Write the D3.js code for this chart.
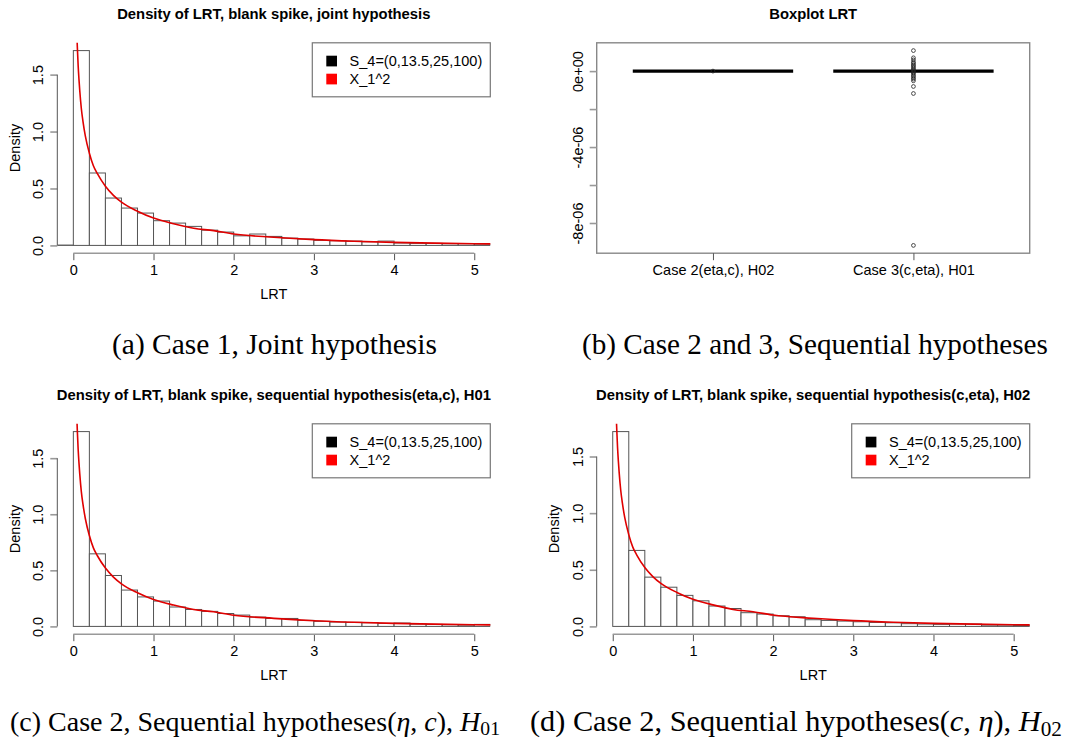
<!DOCTYPE html>
<html>
<head>
<meta charset="utf-8">
<script src="https://cdn.jsdelivr.net/npm/d3@7"></script>
<style>
  body { margin: 0; background: #fff; }
  svg { display: block; }
  text { font-family: "Liberation Sans", Arial, sans-serif; fill: #000; }
  .cap text, text.cap { font-family: "Liberation Serif", "Times New Roman", serif; }
</style>
</head>
<body>
<svg id="fig" width="1072" height="743"></svg>
<script>
// 直方圖的左端點 (bin 寬 0.2)
const binLeft = [-0.2, 0, 0.2, 0.4, 0.6, 0.8, 1.0, 1.2, 1.4, 1.6, 1.8, 2.0, 2.2, 2.4,
  2.6, 2.8, 3.0, 3.2, 3.4, 3.6, 3.8, 4.0, 4.2, 4.4, 4.6, 4.8, 5.0];
const binWidth = 0.2;

// 各圖的密度
const densJoint = [0.003, 1.711, 0.636, 0.416, 0.328, 0.284, 0.217, 0.196, 0.167, 0.134,
  0.117, 0.084, 0.100, 0.079, 0.064, 0.056, 0.044, 0.041, 0.038, 0.032, 0.038, 0.021,
  0.018, 0.018, 0.015, 0.015, 0.012];
const densEtaC = [null, 1.737, 0.647, 0.454, 0.324, 0.263, 0.226, 0.173, 0.151, 0.134,
  0.115, 0.101, 0.083, 0.071, 0.071, 0.054, 0.045, 0.039, 0.036, 0.033, 0.027, 0.030,
  0.021, 0.018, 0.015, 0.012, 0.018];
const densCEta = [null, 1.720, 0.671, 0.435, 0.346, 0.274, 0.226, 0.180, 0.158, 0.121,
  0.109, 0.094, 0.085, 0.059, 0.053, 0.047, 0.041, 0.035, 0.032, 0.024, 0.021, 0.018,
  0.021, 0.021, 0.012, 0.012, 0.009];

// 紅色曲線 X_1^2
const chiX = [0.04, 0.05, 0.06, 0.07, 0.08, 0.1, 0.12, 0.15, 0.2, 0.25, 0.3, 0.4, 0.5,
  0.6, 0.8, 1.0, 1.25, 1.5, 1.75, 2.0, 2.5, 3.0, 3.5, 4.0, 4.5, 5.0, 5.4];
const chiY = [1.93, 1.74, 1.58, 1.46, 1.36, 1.20, 1.09, 0.96, 0.81, 0.70, 0.63, 0.52, 0.44,
  0.38, 0.30, 0.24, 0.19, 0.15, 0.13, 0.10, 0.072, 0.051, 0.037, 0.027, 0.020, 0.015, 0.012];

const xTicks = [0, 1, 2, 3, 4, 5];
const yTicks = [0, 0.5, 1.0, 1.5];
const legendLabels = ["S_4=(0,13.5,25,100)", "X_1^2"];
const legendColors = ["#000", "#ff0000"];

// boxplot
const boxCats = ["Case 2(eta,c), H02", "Case 3(c,eta), H01"];
const boxMedians = [0, 0];
const boxOutliers = [
  [0],
  [1.08e-6, 0.70e-6, 0.59e-6, 0.47e-6, 0.40e-6, 0.32e-6, 0.25e-6, 0.18e-6, 0.10e-6, 0.04e-6,
   -0.04e-6, -0.10e-6, -0.18e-6, -0.26e-6, -0.34e-6, -0.42e-6, -0.51e-6, -0.81e-6,
   -1.18e-6, -9.18e-6]
];
const boxTicks = [0, -2e-6, -4e-6, -6e-6, -8e-6];
const boxTickLabels = ["0e+00", "", "-4e-06", "", "-8e-06"];

const titles = [
  "Density of LRT, blank spike, joint hypothesis",
  "Boxplot LRT",
  "Density of LRT, blank spike, sequential hypothesis(eta,c), H01",
  "Density of LRT, blank spike, sequential hypothesis(c,eta), H02"
];

// 版面
const L = 57.3, R = 490.3, T = 42.8, B = 253.2;
const FS = 14.5;
const svg = d3.select("#fig");

function pad(ext) {
  const d = (ext[1] - ext[0]) * 0.04;
  return [ext[0] - d, ext[1] + d];
}

function panelFrame(g, title, id) {
  g.append("text")
    .attr("x", (L + R) / 2).attr("y", 19)
    .attr("text-anchor", "middle")
    .style("font-size", "14.8px").style("font-weight", "bold")
    .text(title);
  g.append("clipPath").attr("id", id)
    .append("rect").attr("x", L).attr("y", T).attr("width", R - L).attr("height", B - T);
}

function yLabelRotate(sel, off) {
  sel.selectAll(".tick text")
    .attr("transform", "rotate(-90)")
    .attr("x", 0).attr("y", -off)
    .attr("dy", "0.35em")
    .attr("text-anchor", "middle");
}

function drawHist(g, title, dens, id) {
  panelFrame(g, title, id);
  const x = d3.scaleLinear().domain(pad([0, 5])).range([L, R]);
  const y = d3.scaleLinear().domain(pad([0, d3.max(dens)])).range([B, T]);

  const bins = binLeft.map((l, i) => ({ l, d: dens[i] })).filter(b => b.d != null);
  const plot = g.append("g").attr("clip-path", `url(#${id})`);
  plot.selectAll("rect.bar").data(bins).join("rect")
    .attr("class", "bar")
    .attr("x", b => x(b.l))
    .attr("y", b => y(b.d))
    .attr("width", b => x(b.l + binWidth) - x(b.l))
    .attr("height", b => y(0) - y(b.d))
    .attr("fill", "#fff")
    .attr("stroke", "#555")
    .attr("stroke-width", 1);

  const line = d3.line().x(d => x(d[0])).y(d => y(d[1])).curve(d3.curveMonotoneX);
  plot.append("path")
    .datum(chiX.map((v, i) => [v, chiY[i]]))
    .attr("d", line)
    .attr("fill", "none")
    .attr("stroke", "#e00000")
    .attr("stroke-width", 1.6);

  // x 軸
  const gx = g.append("g").attr("transform", `translate(0,${B})`)
    .call(d3.axisBottom(x).tickValues(xTicks).tickFormat(d3.format("d")).tickSizeOuter(0).tickSize(7).tickPadding(5));
  gx.select(".domain").remove();
  gx.append("line").attr("x1", x(xTicks[0])).attr("x2", x(xTicks[xTicks.length - 1]))
    .attr("stroke", "#999").attr("stroke-width", 1.6);
  gx.selectAll(".tick line").attr("stroke", "#555");
  gx.selectAll("text").style("font-size", FS + "px").style("font-family", "Liberation Sans, Arial, sans-serif");

  // y 軸
  const gy = g.append("g").attr("transform", `translate(${L},0)`)
    .call(d3.axisLeft(y).tickValues(yTicks).tickFormat(d3.format(".1f")).tickSize(7));
  gy.select(".domain").remove();
  gy.append("line").attr("y1", y(yTicks[0])).attr("y2", y(yTicks[yTicks.length - 1]))
    .attr("stroke", "#555").attr("stroke-width", 1);
  gy.selectAll(".tick line").attr("stroke", "#999").attr("stroke-width", 1.6);
  gy.selectAll("text").style("font-size", FS + "px").style("font-family", "Liberation Sans, Arial, sans-serif");
  yLabelRotate(gy, 19);

  g.append("text").attr("x", (L + R) / 2).attr("y", 299).attr("text-anchor", "middle")
    .style("font-size", FS + "px").text("LRT");
  g.append("text").attr("transform", `translate(20,${(T + B) / 2}) rotate(-90)`)
    .attr("text-anchor", "middle").style("font-size", FS + "px").text("Density");

  // 圖例
  const lw = 178, lh = 54;
  const lg = g.append("g").attr("transform", `translate(${R - lw},${T})`);
  lg.append("rect").attr("width", lw).attr("height", lh)
    .attr("fill", "#fff").attr("stroke", "#777").attr("stroke-width", 1.2);
  const items = lg.selectAll("g.item").data(legendLabels).join("g")
    .attr("class", "item")
    .attr("transform", (d, i) => `translate(0,${18.2 + i * 18})`);
  items.append("rect").attr("x", 14).attr("y", -5.3).attr("width", 10.7).attr("height", 10.7)
    .attr("fill", (d, i) => legendColors[i]);
  items.append("text").attr("x", 37.3).attr("dy", "0.36em")
    .style("font-size", FS + "px").text(d => d);
}

function drawBox(g, title, id) {
  panelFrame(g, title, id);
  const all = boxOutliers.flat().concat(boxMedians);
  const x = d3.scaleLinear().domain(pad([0.5, boxCats.length + 0.5])).range([L, R]);
  const y = d3.scaleLinear().domain(pad(d3.extent(all))).range([B, T]);

  g.append("rect").attr("x", L).attr("y", T).attr("width", R - L).attr("height", B - T)
    .attr("fill", "none").attr("stroke", "#888").attr("stroke-width", 1.4);

  const plot = g.append("g").attr("clip-path", `url(#${id})`);
  plot.selectAll("line.med").data(boxMedians).join("line")
    .attr("class", "med")
    .attr("x1", (d, i) => x(i + 1 - 0.4)).attr("x2", (d, i) => x(i + 1 + 0.4))
    .attr("y1", d => y(d)).attr("y2", d => y(d))
    .attr("stroke", "#000").attr("stroke-width", 3.2);

  boxOutliers.forEach((pts, i) => {
    plot.selectAll(`circle.o${i}`).data(pts).join("circle")
      .attr("class", `o${i}`)
      .attr("cx", x(i + 1)).attr("cy", d => y(d)).attr("r", 1.9)
      .attr("fill", "none").attr("stroke", "#222").attr("stroke-width", 0.8);
  });

  const gx = g.append("g").attr("transform", `translate(0,${B})`)
    .call(d3.axisBottom(x).tickValues([1, 2]).tickFormat((d, i) => boxCats[i]).tickSize(7).tickPadding(5));
  gx.select(".domain").remove();
  gx.selectAll(".tick line").attr("stroke", "#555");
  gx.selectAll("text").style("font-size", FS + "px").style("font-family", "Liberation Sans, Arial, sans-serif");

  const gy = g.append("g").attr("transform", `translate(${L},0)`)
    .call(d3.axisLeft(y).tickValues(boxTicks).tickFormat((d, i) => boxTickLabels[i]).tickSize(7));
  gy.select(".domain").remove();
  gy.selectAll(".tick line").attr("stroke", "#999").attr("stroke-width", 1.6);
  gy.selectAll("text").style("font-size", FS + "px").style("font-family", "Liberation Sans, Arial, sans-serif");
  yLabelRotate(gy, 19);
}

const dx = 539.4, dy = 381;
drawHist(svg.append("g"), titles[0], densJoint, "clipA");
drawBox(svg.append("g").attr("transform", `translate(${dx},0)`), titles[1], "clipB");
drawHist(svg.append("g").attr("transform", `translate(0,${dy})`), titles[2], densEtaC, "clipC");
drawHist(svg.append("g").attr("transform", `translate(${dx},${dy})`), titles[3], densCEta, "clipD");

// 子圖說明 (serif)
const captions = [
  { x: 112, y: 354, w: 325, parts: [["(a) Case 1, Joint hypothesis"]] },
  { x: 582, y: 354, w: 466, parts: [["(b) Case 2 and 3, Sequential hypotheses"]] },
  { x: 10, y: 731, w: 490, parts: [["(c) Case 2, Sequential hypotheses("], ["η", "i"], [", "], ["c", "i"], ["), "], ["H", "i"], ["01", "sub"]] },
  { x: 530, y: 731, w: 532, parts: [["(d) Case 2, Sequential hypotheses("], ["c", "i"], [", "], ["η", "i"], ["), "], ["H", "i"], ["02", "sub"]] }
];
captions.forEach(c => {
  const t = svg.append("text").attr("class", "cap")
    .attr("x", c.x).attr("y", c.y).style("font-size", "24px");
  c.parts.forEach(p => {
    const s = t.append("tspan").text(p[0]);
    if (p[1] === "i") s.style("font-style", "italic");
    if (p[1] === "sub") s.attr("dy", "0.22em").style("font-size", "70%");
  });
  const w = t.node().getComputedTextLength();
  t.style("font-size", (24 * c.w / w).toFixed(2) + "px");
});
</script>
</body>
</html>
